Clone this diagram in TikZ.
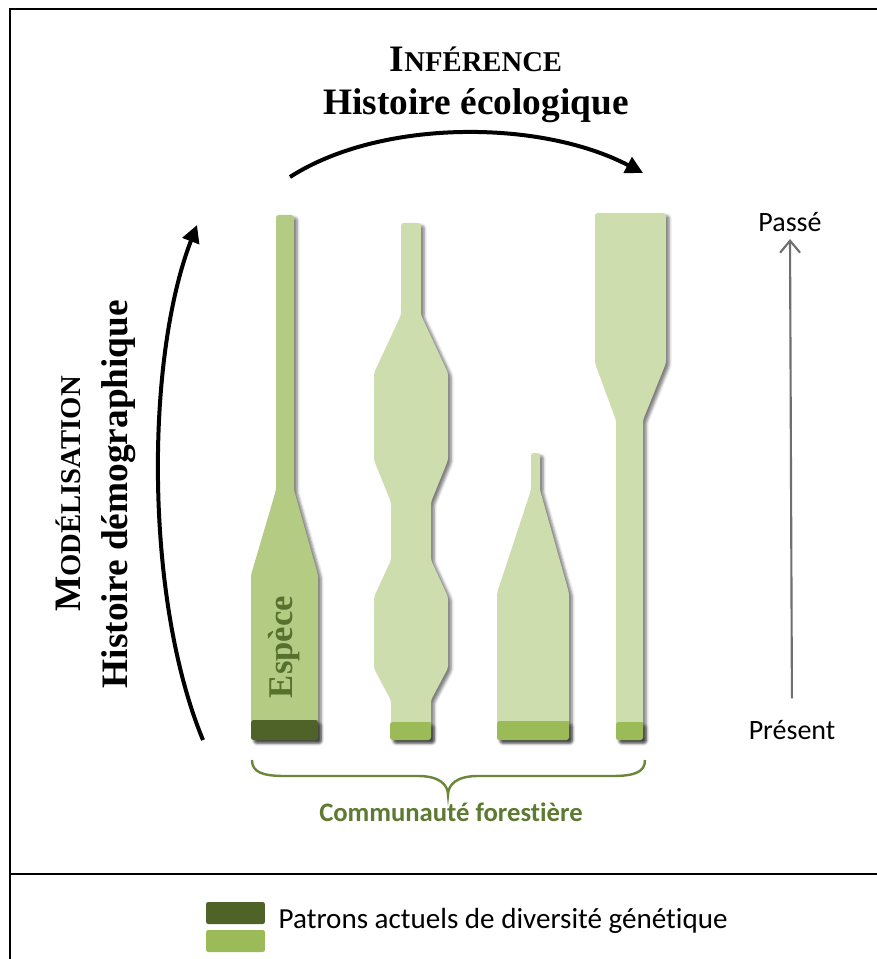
\documentclass[tikz,border=0pt]{standalone}
\usepackage{fontspec}
\setmainfont{Liberation Serif}
\newfontfamily\calibrifont{Carlito}[Ligatures=NoCommon]
\usepackage{tikz}
\usetikzlibrary{arrows.meta,shadows.blur}
\definecolor{speciesfill}{HTML}{B4CB84}
\definecolor{commfill}{HTML}{CDDDAE}
\definecolor{divdark}{HTML}{4F6228}
\definecolor{divlight}{HTML}{9BBB59}
\definecolor{bracegreen}{HTML}{6A8738}
\definecolor{labelgreen}{HTML}{5E7A32}
\definecolor{especegreen}{HTML}{56702E}
\definecolor{timegray}{HTML}{6F6F6F}

\newcommand{\fakesc}[2]{#1{\fontsize{21.5}{24}\selectfont #2}}

\begin{document}
\begin{tikzpicture}[
  x=0.75pt, y=-0.75pt,
  frameline/.style={line width=2.2pt, draw=black},
  taxon/.style={
    rounded corners=2pt,
    blur shadow={shadow xshift=2.5pt, shadow yshift=-2pt, shadow blur radius=2pt, shadow opacity=50},
  },
  divbar/.style={
    rounded corners=2pt,
    blur shadow={shadow xshift=2.5pt, shadow yshift=-2.5pt, shadow blur radius=2pt, shadow opacity=50},
  },
  bigarrow/.style={line width=3pt, -{Triangle[length=13pt,width=13pt]}},
  timearrow/.style={line width=1.6pt, draw=timegray, -{Straight Barb[length=9pt,width=15pt,line width=1.6pt]}},
  titletext/.style={font=\fontsize{28}{30}\selectfont\bfseries},
  calibritext/.style={font=\calibrifont\fontsize{21}{24}\selectfont},
  legendbox/.style={rectangle, rounded corners=1.5pt, minimum width=44pt, minimum height=16.5pt, inner sep=0pt},
]
\useasboundingbox (0,0) rectangle (877,959);

% Frame
\draw[frameline] (877,9) -- (10,9) -- (10,959);
\draw[frameline] (10,874) -- (877,874);

% Titles
\node[titletext, anchor=base] (inference) at (476,72) {\fakesc{I}{NFÉRENCE}};
\node[titletext, anchor=base] (histeco) at (476,115) {Histoire écologique};
\node[titletext, anchor=base, rotate=90] (modelisation) at (80,494) {\fakesc{M}{ODÉLISATION}};
\node[titletext, anchor=base, rotate=90] (histdemo) at (127,494) {Histoire démographique};

% Arrows
\coordinate (infstart) at (290,177);
\coordinate (infend) at (643,173);
\coordinate (modstart) at (203,740);
\coordinate (modend) at (197,225);
\draw[bigarrow] (infstart) .. controls (380,119) and (540,119) .. (infend);
\draw[bigarrow] (modstart) .. controls (145,600) and (145,360) .. (modend);

% Species shapes
\path[taxon, fill=speciesfill] (251,740) -- (251,575) -- (276,490) -- (276,215) -- (294,215) -- (294,490) -- (318,575) -- (318,740) -- cycle;
\path[taxon, fill=commfill] (391,740) -- (391,700) -- (374,668) -- (374,597) -- (391,560) -- (391,502) -- (374,460) -- (374,373) -- (401,315) -- (401,223) -- (421,223) -- (421,315) -- (448,373) -- (448,460) -- (431,502) -- (431,560) -- (448,597) -- (448,668) -- (431,700) -- (431,740) -- cycle;
\path[taxon, fill=commfill] (497,740) -- (497,593) -- (531,490) -- (531,453) -- (540,453) -- (540,490) -- (569,593) -- (569,740) -- cycle;
\path[taxon, fill=commfill] (616,740) -- (616,420) -- (595,363) -- (595,213) -- (666,213) -- (666,363) -- (643,420) -- (643,740) -- cycle;

\node[font=\fontsize{26}{28}\selectfont\bfseries, text=especegreen, anchor=base, rotate=90] (espece) at (292,647) {Espèce};

% Current diversity
\path[divbar, fill=divdark] (251,720) rectangle (318,740);
\path[divbar, fill=divlight] (390,722) rectangle (431,740);
\path[divbar, fill=divlight] (497,721) rectangle (569,740);
\path[divbar, fill=divlight] (616,722) rectangle (643,740);

% Brace
\draw[bracegreen, line width=1.8pt] (252,760) .. controls (252,772) and (262,776) .. (285,776) -- (418,776)
  .. controls (440,776) and (448,785) .. (448,795) .. controls (448,785) and (456,776) .. (478,776)
  -- (612,776) .. controls (635,776) and (645,772) .. (645,760);
\node[font=\calibrifont\bfseries\fontsize{20}{22}\selectfont, text=labelgreen] (communaute) at (451,812) {Communauté forestière};

% Time axis
\node[calibritext] (passe) at (790,222) {Passé};
\node[calibritext] (present) at (792,730) {Présent};
\draw[timearrow, shorten <=13pt, shorten >=2pt] (present.north) -- (passe.south);

% Legend
\node[legendbox, fill=divdark] (legdark) at (235.5,913) {};
\node[legendbox, fill=divlight] (leglight) at (235.5,941) {};
\node[calibritext, font=\calibrifont\fontsize{21.8}{24}\selectfont, anchor=west] (legtext) at (274,921) {Patrons actuels de diversité génétique};

\end{tikzpicture}
\end{document}
